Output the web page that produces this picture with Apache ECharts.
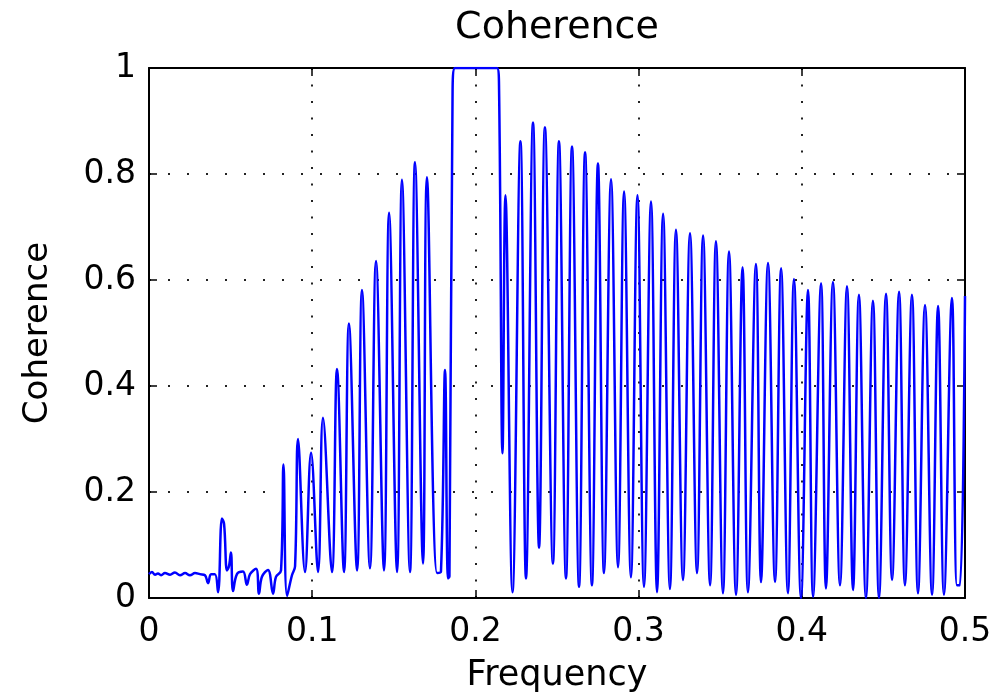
<!DOCTYPE html>
<html>
<head>
<meta charset="utf-8">
<script src="https://cdn.jsdelivr.net/npm/echarts@6/dist/echarts.min.js"></script>
<style>
html,body{margin:0;padding:0;background:#fff;}
#chart{width:998px;height:698px;}
</style>
</head>
<body>
<div id="chart"></div>
<script>
// Frequency values (x) of the traced curve vertices
const freq = [
  0, 0.0018, 0.0037, 0.0055, 0.0074, 0.0098, 0.0129, 0.0159, 0.0190, 0.0221,
  0.0251, 0.0282, 0.0312, 0.0343, 0.0362, 0.0380, 0.0404, 0.0423, 0.0447, 0.0460,
  0.0478, 0.0490, 0.0502, 0.0515, 0.0539, 0.0576, 0.0600, 0.0619, 0.0656, 0.0674,
  0.0692, 0.0729, 0.0760, 0.0778, 0.0809, 0.0824, 0.0846, 0.0876, 0.0895, 0.0913,
  0.0956, 0.0993, 0.1036, 0.1066, 0.1121, 0.1152, 0.1195, 0.1225, 0.1275, 0.1305,
  0.1354, 0.1391, 0.1440, 0.1471, 0.1520, 0.1550, 0.1599, 0.1630, 0.1679, 0.1703,
  0.1765, 0.1789, 0.1814, 0.1832, 0.1841, 0.1860, 0.1875, 0.2132, 0.2145,
  0.2166, 0.2184, 0.2227, 0.2276, 0.2310, 0.2353, 0.2390, 0.2426, 0.2475, 0.2512,
  0.2555, 0.2592, 0.2635, 0.2672, 0.2714, 0.2751, 0.2788, 0.2831, 0.2874, 0.2911,
  0.2953, 0.2993, 0.3033, 0.3076, 0.3113, 0.3150, 0.3192, 0.3229, 0.3272, 0.3315,
  0.3358, 0.3395, 0.3438, 0.3474, 0.3517, 0.3554, 0.3597, 0.3637, 0.3670, 0.3719,
  0.3750, 0.3793, 0.3836, 0.3873, 0.3915, 0.3952, 0.3995, 0.4038, 0.4069, 0.4118,
  0.4148, 0.4191, 0.4234, 0.4277, 0.4314, 0.4350, 0.4393, 0.4436, 0.4473, 0.4516,
  0.4553, 0.4596, 0.4632, 0.4675, 0.4712, 0.4755, 0.4798, 0.4835, 0.4871, 0.4920,
  0.4951, 0.4969, 0.5
];
// Coherence values (y) at those vertices
const coherence = [
  0.045, 0.049, 0.044, 0.046, 0.043, 0.047, 0.044, 0.048, 0.043, 0.047,
  0.043, 0.047, 0.045, 0.043, 0.028, 0.045, 0.045, 0.011, 0.150, 0.140,
  0.052, 0.060, 0.086, 0.013, 0.045, 0.050, 0.025, 0.045, 0.055, 0.008,
  0.040, 0.053, 0.008, 0.040, 0.052, 0.252, 0.004, 0.043, 0.060, 0.300,
  0.049, 0.274, 0.049, 0.340, 0.049, 0.432, 0.049, 0.518, 0.052, 0.581,
  0.056, 0.636, 0.052, 0.727, 0.049, 0.789, 0.049, 0.822, 0.065, 0.794,
  0.047, 0.050, 0.430, 0.037, 0.041, 0.950, 1.000, 1.000, 0.960,
  0.273, 0.760, 0.011, 0.862, 0.037, 0.897, 0.095, 0.888, 0.065, 0.862,
  0.037, 0.852, 0.021, 0.841, 0.024, 0.820, 0.047, 0.790, 0.058, 0.767,
  0.039, 0.760, 0.021, 0.748, 0.011, 0.725, 0.017, 0.695, 0.034, 0.688,
  0.047, 0.684, 0.024, 0.673, 0.009, 0.654, 0.006, 0.624, 0.011, 0.630,
  0.030, 0.632, 0.030, 0.622, 0.009, 0.602, 0.000, 0.581, 0.002, 0.594,
  0.018, 0.596, 0.024, 0.588, 0.015, 0.572, 0.000, 0.561, 0.000, 0.574,
  0.034, 0.578, 0.024, 0.572, 0.009, 0.553, 0.006, 0.551, 0.006, 0.566,
  0.024, 0.024, 0.570
];
const xTickLabels = ['0', '0.1', '0.2', '0.3', '0.4', '0.5'];
const yTickLabels = ['0', '0.2', '0.4', '0.6', '0.8', '1'];
const chartTitle = 'Coherence';
const xName = 'Frequency';
const yName = 'Coherence';

const FONT = 'DejaVu Sans';
const chart = echarts.init(document.getElementById('chart'), null, {renderer: 'canvas'});
const data = freq.map((f, i) => [f, coherence[i]]);

function tickFmt(labels, step) {
  return v => {
    const i = Math.round(v / step);
    return labels[i] !== undefined ? labels[i] : '';
  };
}
const boxLine = {show: true, onZero: false, lineStyle: {color: '#000', width: 2}};
const tick = {show: true, inside: true, length: 8, lineStyle: {color: '#000', width: 1.5}};

chart.setOption({
  animation: false,
  backgroundColor: '#fff',
  title: {
    text: chartTitle,
    left: 552,
    textAlign: 'center',
    top: 4,
    textStyle: {fontFamily: FONT, fontSize: 38, fontWeight: 'normal', color: '#000'}
  },
  grid: {left: 149, right: 33, top: 68, bottom: 95, containLabel: false},
  xAxis: [{
    type: 'value', min: 0, max: 0.5, interval: 0.1, position: 'bottom',
    axisLine: boxLine, axisTick: tick,
    axisLabel: {fontFamily: FONT, fontSize: 33, color: '#000', margin: 18, formatter: tickFmt(xTickLabels, 0.1)},
    splitLine: {show: true, lineStyle: {color: '#222', width: 2, type: [2, 14.5]}},
    name: xName, nameLocation: 'middle', nameGap: 60,
    nameTextStyle: {fontFamily: FONT, fontSize: 35, color: '#000'}
  }, {
    type: 'value', min: 0, max: 0.5, interval: 0.1, position: 'top',
    axisLine: boxLine, axisTick: tick, axisLabel: {show: false}, splitLine: {show: false}
  }],
  yAxis: [{
    type: 'value', min: 0, max: 1, interval: 0.2, position: 'left',
    axisLine: boxLine, axisTick: tick,
    axisLabel: {fontFamily: FONT, fontSize: 33, color: '#000', margin: 13, formatter: tickFmt(yTickLabels, 0.2)},
    splitLine: {show: true, lineStyle: {color: '#222', width: 2, type: [2, 17]}},
    name: yName, nameLocation: 'middle', nameGap: 94,
    nameTextStyle: {fontFamily: FONT, fontSize: 34, color: '#000'}
  }, {
    type: 'value', min: 0, max: 1, interval: 0.2, position: 'right',
    axisLine: boxLine, axisTick: tick, axisLabel: {show: false}, splitLine: {show: false}
  }],
  series: [{
    type: 'line',
    xAxisIndex: 0, yAxisIndex: 0,
    data: data,
    showSymbol: false,
    smooth: 0.4,
    clip: true,
    lineStyle: {color: '#0000ff', width: 2.5},
    z: 3
  }]
});
</script>
</body>
</html>
